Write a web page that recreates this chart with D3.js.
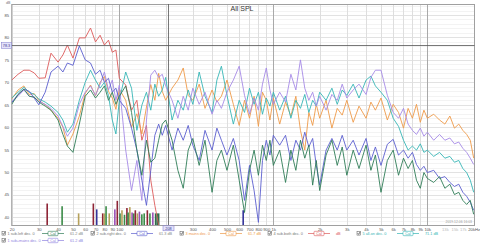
<!DOCTYPE html>
<html>
<head>
<meta charset="utf-8">
<script src="https://cdn.jsdelivr.net/npm/d3@7"></script>
<style>
body { margin: 0; background: #fff; }
svg { display: block; font-family: "Liberation Sans", Arial, sans-serif; }
</style>
</head>
<body>
<svg id="chart" width="480" height="244"></svg>
<script>
var freqs = [20, 22, 24, 26, 28, 30, 33, 36, 40, 43, 46, 50, 55, 60, 65, 70, 75, 80, 85, 90, 95, 100,
  110, 120, 130, 140, 150, 160, 170, 180, 190, 200,
  220, 240, 260, 280, 300, 330, 360, 400, 430, 460, 500, 550, 600, 650, 700, 750, 800, 850, 900, 950,
  1000, 1100, 1200, 1300, 1400, 1500, 1600, 1700, 1800, 1900, 2000,
  2200, 2400, 2600, 2800, 3000, 3300, 3600, 4000, 4300,
  4600, 5000, 5500, 6000, 6500, 7000, 7500, 8000, 8500, 9000,
  9500, 10000, 11000, 12000, 13000, 14000, 15000, 16000, 17000, 18000, 19000, 20000];

var green = [65.1, 67.3, 68.5, 66.9, 66.7, 65.6, 64.7, 63.8, 61.6, 58.4, 55.8, 54.4, 60.7, 66.9, 68.3, 66.5, 67.8, 69.2, 66.0, 67.8, 65.1, 66.9,
  69.2, 63.3, 54.9, 49.3, 57.1, 52.2, 53.1, 57.1, 60.7, 61.6,
  57.1, 50.4, 46.4, 54.9, 57.5, 51.5, 57.1, 45.5, 52.6, 54.9, 50.4, 56.0, 48.2, 41.0, 50.4, 54.9, 49.3, 56.0, 52.6, 57.1,
  51.5, 54.9, 47.7, 54.9, 50.4, 57.1, 53.1, 56.0, 47.1, 52.6, 45.9,
  53.8, 57.1, 51.5, 55.6, 49.3, 54.9, 50.8, 56.0, 50.4,
  53.8, 45.5, 52.6, 54.9, 49.3, 53.1, 50.8, 52.6, 48.2, 46.4,
  49.9, 48.6, 47.7, 49.0, 46.4, 47.3, 45.0, 45.5, 43.7, 42.8, 43.7, 40.6];

var blue = [65.5, 67.3, 68.5, 68.0, 66.5, 65.0, 67.8, 72.3, 73.6, 72.3, 74.3, 73.8, 78.1, 75.0, 74.3, 71.8, 72.7, 70.0, 70.9, 67.8, 68.7, 66.0,
  64.2, 59.8, 54.9, 48.2, 42.6, 50.4, 58.2, 60.7, 58.2, 60.4,
  54.9, 59.8, 57.1, 60.4, 56.0, 52.6, 59.3, 54.9, 59.8, 57.1, 53.8, 57.5, 52.6, 43.7, 51.5, 45.9, 38.8, 52.6, 57.1, 53.8,
  58.2, 56.0, 58.2, 52.6, 57.1, 54.9, 58.9, 55.6, 57.5, 51.5, 47.1,
  54.9, 57.5, 54.9, 58.2, 54.9, 57.1, 53.8, 57.5, 52.6,
  55.6, 51.5, 56.2, 57.3, 53.8, 54.9, 53.1, 54.4, 51.7, 50.4,
  51.3, 49.9, 50.4, 48.6, 49.0, 47.7, 46.8, 47.3, 45.5, 44.6, 43.3, 41.5];

var orange = [66.3, 68.3, 69.2, 67.3, 67.5, 66.0, 65.0, 63.8, 62.0, 60.0, 56.0, 58.5, 62.5, 67.5, 69.4, 67.0, 70.0, 71.3, 68.0, 66.5, 64.0, 68.5,
  66.0, 60.0, 63.0, 58.5, 64.5, 69.5, 66.0, 72.0, 68.0, 66.0,
  68.7, 70.5, 73.2, 67.1, 66.0, 69.6, 64.2, 68.3, 65.6, 66.9, 70.5, 65.1, 60.4, 66.0, 62.0, 66.9, 60.2, 67.8, 66.0, 61.6,
  66.5, 60.7, 65.6, 62.5, 66.9, 59.3, 54.9, 63.3, 60.4, 65.1, 62.0,
  66.0, 59.8, 64.2, 62.7, 66.0, 61.1, 64.7, 62.0, 65.6,
  63.8, 66.5, 61.6, 65.1, 63.3, 59.8, 64.2, 62.0, 65.1, 61.1,
  63.8, 62.0, 62.9, 61.6, 60.7, 62.5, 59.8, 60.7, 59.3, 58.4, 57.1, 53.1];

var red = [70.5, 71.8, 72.7, 72.7, 72.1, 70.9, 71.0, 76.5, 74.5, 76.1, 78.3, 75.4, 79.9, 79.9, 82.1, 79.0, 80.5, 78.3, 79.4, 76.7, 77.2, 70.9,
  69.4, 63.8, 66.0, 57.1, 60.4, 48.2, 42.6, 38.2];

var teal = [66.5, 67.8, 68.9, 67.8, 67.3, 66.3, 65.6, 64.7, 63.3, 61.6, 58.9, 60.7, 66.0, 70.0, 72.7, 70.5, 68.7, 70.0, 67.1, 61.6, 58.5, 66.0,
  72.3, 68.7, 59.3, 64.9, 67.8, 63.8, 69.6, 66.9, 68.3, 71.1,
  61.6, 66.0, 63.8, 68.3, 65.1, 72.3, 66.9, 63.3, 70.5, 73.6, 67.1, 60.7, 66.0, 63.3, 68.7, 65.1, 67.8, 62.9, 66.5, 64.7,
  67.8, 63.8, 66.9, 62.0, 66.0, 64.2, 67.3, 63.3, 66.0, 64.7, 67.8,
  66.0, 68.7, 65.1, 68.3, 67.1, 69.6, 66.5, 70.5, 71.4,
  69.2, 67.8, 66.0, 62.0, 60.2, 57.1, 54.9, 55.8, 54.9, 56.3,
  54.4, 54.9, 53.5, 54.4, 53.1, 53.5, 52.2, 52.6, 50.8, 49.9, 48.2, 45.5];

var purple = [65.6, 66.9, 68.3, 66.9, 66.7, 65.8, 65.1, 64.2, 62.5, 60.2, 58.0, 59.8, 65.1, 67.8, 69.2, 67.1, 69.6, 72.3, 68.3, 70.5, 66.0, 69.4,
  54.9, 45.9, 52.6, 43.7, 61.6, 71.6, 72.7, 71.1, 71.8, 69.2,
  66.0, 62.0, 66.9, 63.8, 68.7, 65.1, 67.8, 62.9, 66.0, 64.2, 67.8, 70.5, 73.6, 67.1, 62.9, 66.5, 63.8, 69.6, 73.2, 68.3,
  65.1, 67.8, 65.6, 71.8, 68.3, 75.0, 68.7, 66.0, 67.8, 64.7, 66.9,
  63.8, 67.3, 66.0, 69.6, 66.5, 68.3, 69.6, 67.3, 71.1,
  72.7, 72.7, 67.1, 63.3, 62.0, 64.2, 60.7, 59.3, 58.4, 59.8,
  58.0, 58.9, 57.1, 58.4, 57.1, 57.6, 56.3, 56.7, 55.3, 54.4, 53.1, 51.7];

var legendNames = ["1 sub-left dec. 0", "2 sub-right dec. 0", "3 mains dec. 0", "4 sub-both dec. 0", "5 all-on dec. 0", "1 sub+mains dec. 0"];
var legendValues = ["61.2 dB", "61.3 dB", "61.7 dB", "dB", "71.1 dB", "61.2 dB"];

var barFreqs = [34, 42.5, 54.4, 67.8, 71.3, 78, 80, 82, 86, 93.5, 97, 101, 104, 108, 112, 114, 117, 121, 124, 127, 131, 135, 140, 145, 152, 158, 165, 172, 176, 180, 637];
var barLevels = [43.0, 42.4, 40.8, 43.0, 41.7, 40.8, 40.8, 42.4, 40.8, 41.7, 43.6, 40.8, 41.5, 40.5, 42.0, 41.0, 42.2, 41.0, 40.8, 41.5, 40.8, 41.2, 40.6, 40.8, 41.5, 40.8, 41.0, 40.8, 40.8, 40.8, 41.5];
var barGroups = [0, 1, 2, 0, 3, 0, 2, 1, 2, 4, 0, 1, 2, 1, 0, 1, 2, 4, 1, 0, 2, 4, 1, 1, 0, 1, 4, 5, 5, 5, 3];

// 200 is hidden behind the cursor box in the reference
var xTicks = [20, 30, 40, 50, 60, 70, 80, 90, 100, 300, 400, 500, 600, 700, 800, 900,
  1000, 2000, 3000, 4000, 5000, 6000, 7000, 8000, 9000, 10000, 20000];
var xTickText = ["20", "30", "40", "50", "60", "70", "80", "90", "100", "300", "400", "500", "600", "700", "800", "900",
  "1k", "2k", "3k", "4k", "5k", "6k", "7k", "8k", "9k", "10k", "20kHz"];
var xMinorTicks = [13000, 15000, 17000];
var xMinorText = ["13k", "15k", "17k"];
var yTicks = [40, 45, 50, 55, 60, 65, 70, 75, 80, 85];

var cursorFreq = 208;
var cursorDb = 78.3;

// styles
var series = [
  { values: red, color: "#dc5a5a" },
  { values: orange, color: "#ee9a48" },
  { values: teal, color: "#35b5b5" },
  { values: purple, color: "#a68ae6" },
  { values: blue, color: "#5b5fcf" },
  { values: green, color: "#2f7d57" }
];
var legendColors = ["#2f7d57", "#5b5fcf", "#ee9a48", "#dc5a5a", "#35b5b5", "#8f83e0"];
var legendTextColors = ["#777", "#777", "#ee9a48", "#777", "#35b5b5", "#8f83e0"];
var legendX = [2, 91, 180, 268, 357, 2];
var legendRow = [0, 0, 0, 0, 0, 1];
var barColors = ["#8e2536", "#3b8b48", "#b6a15a", "#34349a", "#9a4fb5", "#2f6f4c"];

var pl = 11.7, pr = 474.5, pt = 4, pb = 225;

var svg = d3.select("#chart");
var x = d3.scaleLog().domain([20, 20000]).range([11.7, 473.7]);
var y = d3.scaleLinear().domain([40, 85]).range([217, 15]);

svg.append("defs").append("clipPath").attr("id", "plotclip")
  .append("rect")
  .attr("x", pl).attr("y", pt)
  .attr("width", pr - pl).attr("height", pb - pt);

function drawGrid() {
  var g = svg.append("g");
  var minorDb = d3.range(39, 88, 1);
  g.selectAll(".hmin").data(minorDb).enter().append("line")
    .attr("x1", pl).attr("x2", pr)
    .attr("y1", d => Math.round(y(d)) + 0.5).attr("y2", d => Math.round(y(d)) + 0.5)
    .attr("stroke", d => d % 5 == 0 ? "#e2e2e2" : "#f3f3f3");

  var vlines = [];
  [10, 100, 1000, 10000].forEach(function(dec) {
    for (var k = 1; k < 10; k++) {
      var f = dec * k;
      if (f >= 20 && f <= 20000) vlines.push(f);
    }
  });
  vlines.push(20000);
  g.selectAll(".vg").data(vlines).enter().append("line")
    .attr("x1", d => Math.round(x(d)) + 0.5).attr("x2", d => Math.round(x(d)) + 0.5)
    .attr("y1", pt).attr("y2", pb)
    .attr("stroke", d => (d == 100 || d == 1000 || d == 10000) ? "#a9a9a9" : "#dedede");

  g.append("rect")
    .attr("x", pl).attr("y", pt + 0.5)
    .attr("width", pr - pl).attr("height", pb - pt)
    .attr("fill", "none")
    .attr("stroke", "#a0a0a0");
}

function drawAxes() {
  var xa = svg.append("g")
    .attr("transform", "translate(0," + pb + ")")
    .call(d3.axisBottom(x).tickValues(xTicks).tickSize(0).tickPadding(3)
      .tickFormat((d, i) => xTickText[i]));
  xa.select(".domain").remove();
  xa.selectAll("text").attr("font-size", "4.2px").attr("fill", "#555").attr("font-family", null);

  var xm = svg.append("g")
    .attr("transform", "translate(0," + pb + ")")
    .call(d3.axisBottom(x).tickValues(xMinorTicks).tickSize(0).tickPadding(3)
      .tickFormat((d, i) => xMinorText[i]));
  xm.select(".domain").remove();
  xm.selectAll("text").attr("font-size", "4.2px").attr("fill", "#bbb").attr("font-family", null);

  var ya = svg.append("g")
    .attr("transform", "translate(" + (pl - 1) + ",0)")
    .call(d3.axisLeft(y).tickValues(yTicks).tickSize(0).tickPadding(1.5));
  ya.select(".domain").remove();
  ya.selectAll("text").attr("font-size", "4.2px").attr("fill", "#555").attr("font-family", null);

  svg.append("text")
    .text("dB")
    .attr("x", 6).attr("y", 3.5)
    .attr("font-size", "3.6px").attr("fill", "#777");

  svg.append("text")
    .text("All SPL")
    .attr("x", 242).attr("y", 11)
    .attr("text-anchor", "middle")
    .attr("font-size", "7px").attr("fill", "#333");

  svg.append("text")
    .text("2019.12.06 16:03")
    .attr("x", 472).attr("y", 223)
    .attr("text-anchor", "end")
    .attr("font-size", "3.4px").attr("fill", "#999");
}

function drawBars() {
  var g = svg.append("g").attr("clip-path", "url(#plotclip)");
  g.selectAll("rect").data(barFreqs).enter().append("rect")
    .attr("x", d => x(d) - 0.8)
    .attr("width", 1.6)
    .attr("y", (d, i) => y(barLevels[i]))
    .attr("height", (d, i) => pb - y(barLevels[i]))
    .attr("fill", (d, i) => barColors[barGroups[i]]);
}

function drawTraces() {
  var g = svg.append("g").attr("clip-path", "url(#plotclip)");
  var line = d3.line()
    .x(d => x(d[0]))
    .y(d => y(d[1]));
  series.forEach(function(s) {
    var pts = s.values.map((v, i) => [freqs[i], v]);
    g.append("path")
      .attr("d", line(pts))
      .attr("fill", "none")
      .attr("stroke", s.color)
      .attr("stroke-width", 0.9)
      .attr("stroke-linejoin", "round");
  });
}

function drawCursor() {
  var cx = Math.round(x(cursorFreq)) + 0.5;
  var cy = Math.round(y(cursorDb)) + 0.5;
  svg.append("line")
    .attr("x1", pl).attr("x2", pr).attr("y1", cy).attr("y2", cy)
    .attr("stroke", "#555").attr("stroke-width", 0.8);
  svg.append("line")
    .attr("x1", cx).attr("x2", cx).attr("y1", pt).attr("y2", pb)
    .attr("stroke", "#555").attr("stroke-width", 0.8);

  svg.append("rect")
    .attr("x", 1.5).attr("y", cy - 2.8).attr("width", 10).attr("height", 5.6)
    .attr("fill", "#e4e2fa").attr("stroke", "#7b74c9").attr("stroke-width", 0.5);
  svg.append("text")
    .text(cursorDb.toFixed(1))
    .attr("x", 6.5).attr("y", cy + 1.4)
    .attr("text-anchor", "middle")
    .attr("font-size", "3.8px").attr("fill", "#3a3a90");

  svg.append("rect")
    .attr("x", cx - 5.5).attr("y", pb + 0.8).attr("width", 11).attr("height", 5)
    .attr("fill", "#e4e2fa").attr("stroke", "#7b74c9").attr("stroke-width", 0.5);
  svg.append("text")
    .text(cursorFreq)
    .attr("x", cx).attr("y", pb + 4.6)
    .attr("text-anchor", "middle")
    .attr("font-size", "3.8px").attr("fill", "#3a3a90");
}

function drawLegend() {
  legendNames.forEach(function(name, i) {
    var lx = legendX[i];
    var ly = 233.5 + legendRow[i] * 7;
    var g = svg.append("g");

    g.append("rect")
      .attr("x", lx).attr("y", ly - 2).attr("width", 3.6).attr("height", 3.6)
      .attr("fill", "#fff").attr("stroke", "#555").attr("stroke-width", 0.5);
    g.append("path")
      .attr("d", "M" + (lx + 0.7) + "," + (ly - 0.3) + "l1,1.2l1.4,-2.6")
      .attr("fill", "none").attr("stroke", "#222").attr("stroke-width", 0.6);

    g.append("text")
      .text(name)
      .attr("x", lx + 5.5).attr("y", ly + 1.3)
      .attr("font-size", "3.8px").attr("fill", legendTextColors[i]);

    var bx = lx + 46;
    g.append("line")
      .attr("x1", bx - 6).attr("x2", bx + 16).attr("y1", ly).attr("y2", ly)
      .attr("stroke", legendColors[i]).attr("stroke-width", 0.7);
    g.append("rect")
      .attr("x", bx).attr("y", ly - 2.2).attr("width", 10).attr("height", 4.4)
      .attr("rx", 0.8)
      .attr("fill", "#fff").attr("stroke", legendColors[i]).attr("stroke-width", 0.6);
    g.append("text")
      .text("Cal")
      .attr("x", bx + 5).attr("y", ly + 1.3)
      .attr("text-anchor", "middle")
      .attr("font-size", "3.6px").attr("fill", legendColors[i]);

    g.append("text")
      .text(legendValues[i])
      .attr("x", lx + 68).attr("y", ly + 1.3)
      .attr("font-size", "3.8px")
      .attr("fill", i == 0 || i == 1 ? "#888" : legendColors[i]);
  });
}

drawGrid();
drawBars();
drawTraces();
drawCursor();
drawAxes();
drawLegend();
</script>
</body>
</html>
